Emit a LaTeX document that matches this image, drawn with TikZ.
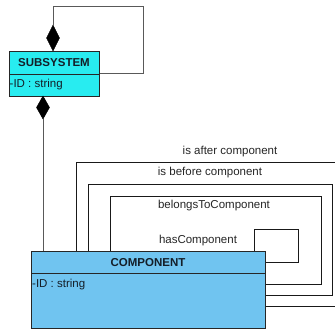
\documentclass[tikz,border=0pt]{standalone}
\usepackage{fontspec}
\setmainfont{Liberation Sans}
\definecolor{subfill}{RGB}{40,236,240}
\definecolor{compfill}{RGB}{112,196,240}
\definecolor{txt}{RGB}{20,30,40}
\tikzset{
  classbox/.style={draw=black!85, line width=0.8pt, anchor=north west, inner sep=0pt},
  title/.style={font=\fontsize{11.5}{13}\selectfont\bfseries, text=txt, inner sep=0pt},
  attr/.style={font=\fontsize{11.5}{13}\selectfont, text=txt, inner sep=0pt, anchor=west},
  rel/.style={draw=black!90, line width=0.7pt},
  comp/.style={draw=black!65, line width=0.7pt},
  lab/.style={font=\fontsize{11.5}{13}\selectfont, text=black!85, inner sep=0pt},
  dia/.style={fill=black, draw=black}
}
\begin{document}
\begin{tikzpicture}[x=1pt,y=-1pt]
\useasboundingbox (0,0) rectangle (335,329);
\clip (0,0) rectangle (335,329);
\fill[white] (0,0) rectangle (335,329);

% SUBSYSTEM class
\node[classbox, fill=subfill, minimum width=90pt, minimum height=45pt] (sub) at (9,51) {};
\draw[draw=black!85, line width=0.7pt] (9,74) -- (99,74);
\node[title] (subt) at (54,62.5) {SUBSYSTEM};
\node[attr] (suba) at (9.5,84.5) {-ID : string};

% COMPONENT class
\node[classbox, fill=compfill, minimum width=234pt, minimum height=77pt] (comp) at (31,251) {};
\draw[draw=black!85, line width=0.7pt] (31,273) -- (265,273);
\node[title] (compt) at (148,262.5) {COMPONENT};
\node[attr] (compa) at (32,284.5) {-ID : string};

% self composition of SUBSYSTEM
\coordinate (d1b) at (53,51);
\coordinate (d1t) at (53,25);
\fill[dia] (d1b) -- (46.5,38) -- (d1t) -- (59.5,38) -- cycle;
\draw[comp] (d1t) -- (53,6) -- (143,6) -- (143,73) -- (sub.east |- 0,73);

% SUBSYSTEM -> COMPONENT composition
\coordinate (d2t) at (43,96);
\coordinate (d2b) at (43,119);
\fill[dia] (d2t) -- (36.5,107.5) -- (d2b) -- (49.5,107.5) -- cycle;
\draw[comp] (d2b) -- (comp.north west -| d2b);

% self relations of COMPONENT
\draw[rel] (76,251) -- (76,162) -- (345,162) -- (345,306) -- (comp.east |- 0,306);
\node[lab] (l1) at (230,151.5) {is after component};

\draw[rel] (88,251) -- (88,184) -- (332,184) -- (332,295) -- (comp.east |- 0,295);
\node[lab] (l2) at (210,172.5) {is before component};

\draw[rel] (110,251) -- (110,196) -- (321,196) -- (321,284) -- (comp.east |- 0,284);
\node[lab] (l3) at (214,205.5) {belongsToComponent};

\draw[rel] (254,251) -- (254,229) -- (298,229) -- (298,262) -- (comp.east |- 0,262);
\node[lab] (l4) at (198,240.5) {hasComponent};

% redraw class borders on top
\draw[draw=black!85, line width=0.8pt] (comp.north west) rectangle (comp.south east);
\end{tikzpicture}
\end{document}
